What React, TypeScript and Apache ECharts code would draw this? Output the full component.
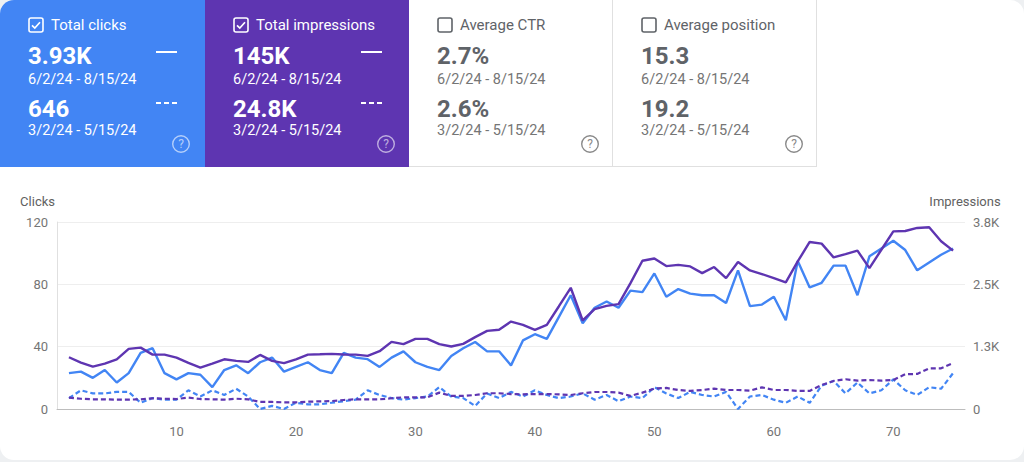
import React, { useEffect, useRef } from "react";
import * as echarts from "echarts";

// ---------- data ----------
const days: number[] = Array.from({ length: 75 }, (_, i) => i + 1);

const clicksCurrent = [23, 24, 20, 25, 17, 23, 36, 39, 23, 19, 23, 22, 14, 25, 28, 23, 30, 33, 24, 27, 30, 25, 23, 36, 33, 32, 27, 33, 37, 30, 27, 25, 34, 39, 43, 37, 37, 28, 44, 48, 45, 59, 73, 55, 65, 69, 65, 76, 75, 87, 72, 77, 74, 73, 73, 68, 89, 66, 67, 72, 57, 95, 78, 81, 92, 92, 73, 98, 103, 108, 102, 89, 94, 99, 103];
const clicksPrevious = [7, 12, 10, 10, 11, 11, 4, 7, 6, 6, 12, 8, 12, 9, 13, 8, 0, 2, 0, 4, 3, 3, 4, 5, 6, 12, 9, 7, 6, 7, 8, 14, 8, 7, 2, 10, 7, 11, 8, 12, 9, 7, 8, 10, 6, 9, 5, 8, 7, 14, 10, 7, 11, 9, 8, 11, 0, 8, 9, 6, 4, 8, 4, 15, 18, 10, 17, 10, 12, 19, 12, 9, 14, 13, 23];
const impressionsCurrent = [1038, 931, 850, 909, 997, 1206, 1231, 1091, 1091, 1031, 925, 831, 909, 997, 966, 944, 1084, 966, 919, 997, 1091, 1097, 1106, 1094, 1091, 1066, 1159, 1347, 1300, 1406, 1406, 1300, 1253, 1306, 1441, 1566, 1588, 1753, 1688, 1588, 1688, 2056, 2431, 1775, 2003, 2069, 2103, 2525, 2972, 3019, 2866, 2891, 2859, 2725, 2847, 2625, 2947, 2778, 2706, 2625, 2538, 2959, 3350, 3316, 3041, 3106, 3175, 2825, 3194, 3563, 3569, 3631, 3644, 3363, 3175];
const impressionsPrevious = [228, 206, 194, 194, 188, 188, 194, 216, 206, 200, 228, 200, 194, 188, 206, 194, 141, 141, 134, 134, 147, 153, 159, 181, 194, 194, 194, 216, 234, 234, 234, 328, 263, 263, 281, 316, 316, 300, 294, 300, 300, 294, 281, 316, 341, 341, 328, 263, 328, 409, 422, 381, 363, 381, 409, 381, 381, 369, 434, 381, 381, 363, 363, 481, 563, 597, 569, 581, 569, 581, 697, 703, 816, 816, 919];

const clickTicks = [0, 40, 80, 120];
const impressionTickLabels = ["0", "1.3K", "2.5K", "3.8K"];
const xTickLabels = [10, 20, 30, 40, 50, 60, 70];

const cardTitles = ["Total clicks", "Total impressions", "Average CTR", "Average position"];
const cardCurrentValues = ["3.93K", "145K", "2.7%", "15.3"];
const cardPreviousValues = ["646", "24.8K", "2.6%", "19.2"];
const cardChecked = [true, true, false, false];
const currentRange = "6/2/24 - 8/15/24";
const previousRange = "3/2/24 - 5/15/24";

// ---------- styles ----------
const BLUE = "#4285f4";
const PURPLE = "#5e35b1";
const cardBg = [BLUE, PURPLE, "#ffffff", "#ffffff"];
const cardLeft = [0, 205, 409, 613];
const cardWidth = [205, 204, 204, 204];

const pairs = (vals: number[]) => vals.map((v, i) => [days[i], v]);

function CheckBox({ checked, color }: { checked: boolean; color: string }) {
  return (
    <svg width={16} height={16} viewBox="0 0 16 16" style={{ position: "absolute", left: 28, top: 17 }}>
      <rect x={1} y={1} width={14} height={14} rx={2} fill="none" stroke={color} strokeWidth={1.6} />
      {checked && <path d="M4 8.3 L6.8 11 L12 5.3" fill="none" stroke={color} strokeWidth={1.7} />}
    </svg>
  );
}

function Help({ color }: { color: string }) {
  return (
    <svg width={20} height={20} viewBox="0 0 20 20" style={{ position: "absolute", left: 171, top: 134 }}>
      <circle cx={10} cy={10} r={8.3} fill="none" stroke={color} strokeWidth={1.4} />
      <text x={10} y={14.2} textAnchor="middle" fontSize={12} fontFamily="Roboto" fill={color}>?</text>
    </svg>
  );
}

function Card({ idx }: { idx: number }) {
  const colored = idx < 2;
  const txt = colored ? "#ffffff" : "#5f6368";
  const sub = colored ? "#ffffff" : "#757575";
  return (
    <div
      style={{
        position: "absolute",
        left: cardLeft[idx],
        top: 0,
        width: cardWidth[idx],
        height: 167,
        background: cardBg[idx],
        boxSizing: "border-box",
        borderRight: colored ? "none" : "1px solid #e0e0e0",
        borderBottom: colored ? "none" : "1px solid #e0e0e0",
      }}
    >
      <CheckBox checked={cardChecked[idx]} color={colored ? "#ffffff" : "#5f6368"} />
      <div style={{ position: "absolute", left: 51, top: 16, fontSize: 15, lineHeight: "18px", color: txt, whiteSpace: "nowrap" }}>
        {cardTitles[idx]}
      </div>
      <div style={{ position: "absolute", left: 28, top: 42, fontSize: 24, lineHeight: "28px", fontWeight: 700, color: txt }}>
        {cardCurrentValues[idx]}
      </div>
      <div style={{ position: "absolute", left: 28, top: 72, fontSize: 14.5, lineHeight: "16px", color: sub, whiteSpace: "nowrap" }}>
        {currentRange}
      </div>
      <div style={{ position: "absolute", left: 28, top: 95, fontSize: 24, lineHeight: "28px", fontWeight: 700, color: txt }}>
        {cardPreviousValues[idx]}
      </div>
      <div style={{ position: "absolute", left: 28, top: 123, fontSize: 14.5, lineHeight: "16px", color: sub, whiteSpace: "nowrap" }}>
        {previousRange}
      </div>
      {colored && (
        <>
          <div style={{ position: "absolute", left: 156, top: 51, width: 21, height: 2, background: "#ffffff" }} />
          <div style={{ position: "absolute", left: 156, top: 102, width: 5, height: 2, background: "#ffffff" }} />
          <div style={{ position: "absolute", left: 164, top: 102, width: 5, height: 2, background: "#ffffff" }} />
          <div style={{ position: "absolute", left: 172, top: 102, width: 5, height: 2, background: "#ffffff" }} />
        </>
      )}
      <Help color={colored ? "rgba(255,255,255,0.6)" : "#8a8a8a"} />
    </div>
  );
}

export default function App() {
  const ref = useRef<HTMLDivElement>(null);
  useEffect(() => {
    document.body.style.margin = "0";
    const chart = echarts.init(ref.current as HTMLDivElement, null, { renderer: "svg" });
    const labelColor = "#757575";
    chart.setOption({
      animation: false,
      textStyle: { fontFamily: "Roboto" },
      grid: { left: 57, right: 59, top: 222, bottom: 53 },
      xAxis: {
        type: "value",
        min: 0,
        max: 76,
        interval: 10,
        axisLine: { lineStyle: { color: "#bdbdbd", width: 1 } },
        axisTick: { show: false },
        splitLine: { show: false },
        axisLabel: {
          color: labelColor,
          fontSize: 13,
          margin: 16,
          formatter: (v: number) => (xTickLabels.indexOf(v) >= 0 ? String(v) : ""),
        },
      },
      yAxis: [
        {
          type: "value",
          name: "Clicks",
          nameLocation: "end",
          nameGap: 14,
          nameTextStyle: { color: "#616161", fontSize: 13, align: "right", padding: [0, 2, 0, 0] },
          min: clickTicks[0],
          max: clickTicks[clickTicks.length - 1],
          interval: 40,
          axisLine: { show: true, lineStyle: { color: "#e0e0e0" } },
          axisTick: { show: false },
          axisLabel: { color: labelColor, fontSize: 13, margin: 9 },
          splitLine: { lineStyle: { color: "#eeeeee" } },
        },
        {
          type: "value",
          name: "Impressions",
          nameLocation: "end",
          nameGap: 14,
          nameTextStyle: { color: "#616161", fontSize: 13 },
          position: "right",
          min: 0,
          max: 3750,
          interval: 1250,
          axisLine: { show: false },
          axisTick: { show: false },
          axisLabel: {
            color: labelColor,
            fontSize: 13,
            margin: 8,
            formatter: (v: number) => impressionTickLabels[Math.round(v / 1250)] ?? "",
          },
          splitLine: { show: false },
        },
      ],
      series: [
        {
          name: "Clicks (previous)",
          type: "line",
          yAxisIndex: 0,
          data: pairs(clicksPrevious),
          showSymbol: false,
          lineStyle: { color: BLUE, width: 2.2, type: [5, 3] },
        },
        {
          name: "Impressions (previous)",
          type: "line",
          yAxisIndex: 1,
          data: pairs(impressionsPrevious),
          showSymbol: false,
          lineStyle: { color: PURPLE, width: 2.2, type: [5, 3] },
        },
        {
          name: "Clicks",
          type: "line",
          yAxisIndex: 0,
          data: pairs(clicksCurrent),
          showSymbol: false,
          lineStyle: { color: BLUE, width: 2.4 },
        },
        {
          name: "Impressions",
          type: "line",
          yAxisIndex: 1,
          data: pairs(impressionsCurrent),
          showSymbol: false,
          lineStyle: { color: PURPLE, width: 2.4 },
        },
      ],
    });
    return () => chart.dispose();
  }, []);

  return (
    <div
      style={{
        position: "fixed",
        left: 0,
        top: 0,
        width: 1024,
        height: 462,
        background: "#eef0f2",
        overflow: "hidden",
        fontFamily: "Roboto, sans-serif",
      }}
    >
      <div
        style={{
          position: "absolute",
          left: 0,
          top: 0,
          width: 1024,
          height: 460,
          background: "#ffffff",
          borderRadius: 14,
          overflow: "hidden",
        }}
      >
        <div ref={ref} style={{ position: "absolute", left: 0, top: 0, width: 1024, height: 462 }} />
        {[0, 1, 2, 3].map((i) => (
          <Card key={i} idx={i} />
        ))}
      </div>
    </div>
  );
}
